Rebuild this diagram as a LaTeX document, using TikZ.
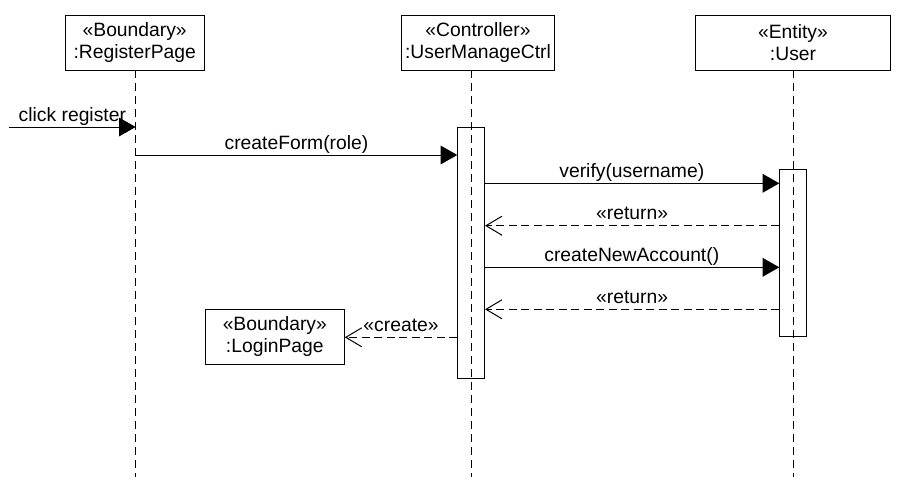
\documentclass[tikz,border=0pt]{standalone}
\usepackage{fontspec}
\setmainfont{Liberation Sans}
\usetikzlibrary{arrows.meta}
\begin{document}
\begin{tikzpicture}[x=1pt,y=-1pt,line width=1pt,
  obj/.style={draw, fill=white, align=center, inner sep=0pt, minimum height=55pt, font=\fontsize{19.3}{22.5}\selectfont},
  act/.style={draw, fill=white, inner sep=0pt, minimum width=27pt},
  life/.style={dash pattern=on 8pt off 5pt},
  sync/.style={-{Triangle[length=16.7pt,width=18.7pt]}},
  ret/.style={dash pattern=on 8pt off 4.5pt, -{Straight Barb[length=16pt,width=19pt]}},
  lbl/.style={font=\fontsize{19.3}{22.5}\selectfont, anchor=base, inner sep=0pt, yshift=6pt}]
\useasboundingbox (0,0) rectangle (906,499);

% objects
\node[obj, minimum width=138.7pt] (reg) at (134.7,42.5) {«Boundary»\\:RegisterPage};
\node[obj, minimum width=152.6pt] (ctrl) at (478,42.5) {«Controller»\\:UserManageCtrl};
\node[obj, minimum width=195.4pt] (user) at (793,42.5) {«Entity»\\:User};
\node[obj, minimum width=139pt, minimum height=54.7pt] (login) at (274.8,336.7) {«Boundary»\\:LoginPage};

% activations
\node[act, minimum height=251pt] (aC) at (470.8,252.8) {};
\node[act, minimum width=27.4pt, minimum height=167pt] (aU) at (793,252.8) {};

% lifelines
\coordinate (lRt) at (135.7,70);
\coordinate (lRb) at (135.7,477);
\coordinate (lCt) at (471.3,70);
\coordinate (lCb) at (471.3,477);
\coordinate (lUt) at (793.3,70);
\coordinate (lUb) at (793.3,477);
\draw[life] (lRt) -- (lRb);
\draw[life] (lCt) -- (lCb);
\draw[life] (lUt) -- (lUb);

% message end points
\coordinate (m0s) at (9,127);
\coordinate (m0e) at (135.7,127);
\coordinate (m1s) at (135.7,155);
\coordinate (m1e) at (457.3,155);
\coordinate (m2s) at (484.3,183.3);
\coordinate (m2e) at (779.3,183.3);
\coordinate (m3s) at (779.3,225.7);
\coordinate (m3e) at (485,225.7);
\coordinate (m4s) at (484.3,267.3);
\coordinate (m4e) at (779.3,267.3);
\coordinate (m5s) at (779.3,309.3);
\coordinate (m5e) at (485,309.3);
\coordinate (m6s) at (457.3,337.3);
\coordinate (m6e) at (login.east |- m6s);

\draw[sync] (m0s) -- node[lbl]{click register} (m0e);
\draw[sync] (m1s) -- node[lbl]{createForm(role)} (m1e);
\draw[sync] (m2s) -- node[lbl]{verify(username)} (m2e);
\draw[ret] (m3s) -- node[lbl]{«return»} (m3e);
\draw[sync] (m4s) -- node[lbl]{createNewAccount()} (m4e);
\draw[ret] (m5s) -- node[lbl]{«return»} (m5e);
\draw[ret] (m6s) -- node[lbl]{«create»} (m6e);
\end{tikzpicture}
\end{document}
